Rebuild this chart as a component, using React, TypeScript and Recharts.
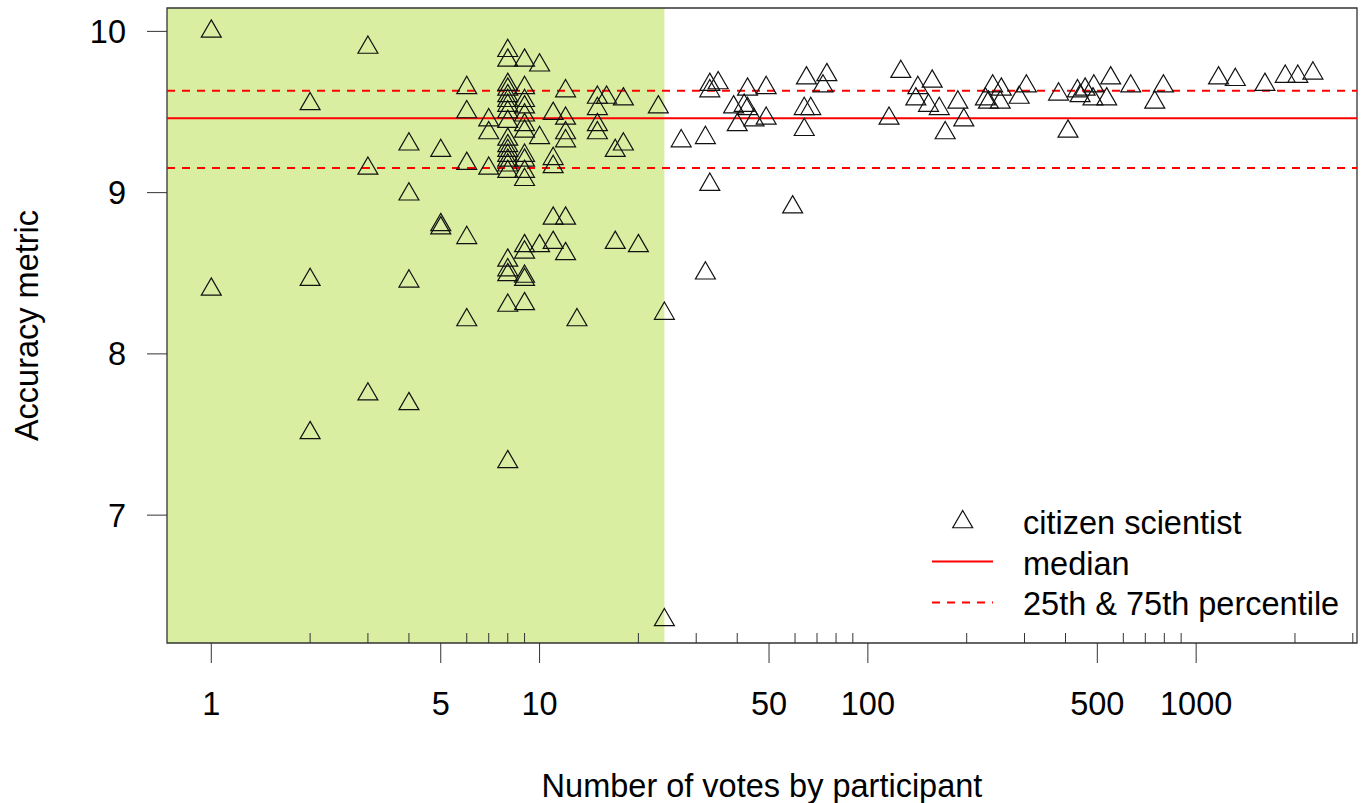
import {
  Legend,
  ReferenceArea,
  ReferenceLine,
  Scatter,
  ScatterChart,
  XAxis,
  YAxis,
} from 'recharts';

const FONT = '"Liberation Sans", Arial, sans-serif';

// participants with few votes (green zone)
const lowVotes = [
  1, 1,
  2, 2, 2,
  3, 3, 3,
  4, 4, 4, 4,
  5, 5, 5,
  6, 6, 6, 6, 6,
  7, 7, 7,
  8, 8, 8, 8, 8, 8, 8, 8, 8, 8, 8, 8, 8, 8, 8, 8, 8, 8, 8, 8, 8,
  9, 9, 9, 9, 9, 9, 9, 9, 9, 9, 9, 9, 9, 9, 9, 9,
  10, 10, 10,
  11, 11, 11, 11, 11,
  12, 12, 12, 12, 12, 12,
  13,
  15, 15, 15, 15,
  16,
  17, 17,
  18, 18,
  20,
  23,
  24, 24,
];
const lowAccuracy = [
  10.0, 8.4,
  9.55, 8.46, 7.51,
  9.9, 9.15, 7.75,
  9.3, 8.99, 8.45, 7.69,
  9.26, 8.8, 8.78,
  9.65, 9.5, 9.18, 8.72, 8.21,
  9.45, 9.37, 9.15,
  9.88, 9.82, 9.67, 9.64, 9.6, 9.57, 9.54, 9.5, 9.44, 9.33, 9.29, 9.26, 9.23, 9.2, 9.17, 9.13, 8.58, 8.52, 8.49, 8.3, 7.33,
  9.82, 9.65, 9.57, 9.53, 9.48, 9.42, 9.38, 9.23, 9.2, 9.13, 9.08, 8.67, 8.63, 8.48, 8.46, 8.31,
  9.79, 9.34, 8.67,
  9.49, 9.21, 9.16, 8.84, 8.69,
  9.63, 9.46, 9.37, 9.32, 8.84, 8.62,
  8.21,
  9.59, 9.52, 9.42, 9.37,
  9.59,
  9.26, 8.69,
  9.58, 9.3,
  8.67,
  9.53,
  8.25, 6.35,
];

// participants with many votes
const highVotes = [
  27, 32, 32, 33, 35, 33, 33, 39, 40, 42, 43, 43, 45, 49, 49, 59, 64, 64, 65, 67, 73, 75,
  116, 126, 142, 140, 157, 153, 165, 172, 188, 196, 240, 228, 233, 255, 253, 289, 304,
  381, 407, 435, 459, 443, 488, 485, 534, 549, 632, 748, 795,
  1170, 1316, 1620, 1868, 2040, 2268,
];
const highAccuracy = [
  9.32, 9.34, 8.5, 9.67, 9.68, 9.63, 9.05, 9.53, 9.42, 9.54, 9.64, 9.52, 9.45, 9.65, 9.46, 8.91, 9.39, 9.52, 9.71, 9.52, 9.66, 9.73,
  9.46, 9.75, 9.65, 9.58, 9.69, 9.54, 9.52, 9.37, 9.56, 9.45, 9.66, 9.58, 9.56, 9.64, 9.56, 9.59, 9.66,
  9.61, 9.38, 9.63, 9.64, 9.6, 9.66, 9.58, 9.58, 9.71, 9.66, 9.56, 9.66,
  9.71, 9.7, 9.67, 9.72, 9.72, 9.74,
];

const majorTicks = [1, 5, 10, 50, 100, 500, 1000];
const minorTicks = [2, 3, 4, 6, 7, 8, 9, 20, 30, 40, 60, 70, 80, 90, 200, 300, 400, 600, 700, 800, 900, 2000, 3000];
const yTicks = [7, 8, 9, 10];

const xDomain = [0.733, 3090];
const yDomain = [6.207, 10.145];
const shadeLimit = 24;
const medianValue = 9.462;
const quartileValues = [9.152, 9.632];

const legendLabels = ['citizen scientist', 'median', '25th & 75th percentile'];

const points = [
  ...lowVotes.map((v, i) => ({ votes: v, accuracy: lowAccuracy[i] })),
  ...highVotes.map((v, i) => ({ votes: v, accuracy: highAccuracy[i] })),
];

const allTicks = [...majorTicks, ...minorTicks].sort((a, b) => a - b);

function triPoints(cx: number, cy: number) {
  const b = 7.4;
  return `${cx},${cy - 1.555 * b} ${cx + 1.347 * b},${cy + 0.778 * b} ${cx - 1.347 * b},${cy + 0.778 * b}`;
}

function Triangle(props: any) {
  const { cx, cy } = props;
  if (cx == null || cy == null) return null;
  return <polygon points={triPoints(cx, cy)} fill="none" stroke="#111" strokeWidth={1.2} />;
}

function XTick(props: any) {
  const { x, y, payload } = props;
  if (!majorTicks.includes(payload.value)) {
    return <line x1={x} x2={x} y1={y} y2={y - 10} stroke="#333" strokeWidth={1} />;
  }
  return (
    <g>
      <line x1={x} x2={x} y1={y} y2={y + 20} stroke="#333" strokeWidth={1} />
      <text x={x} y={y + 72} textAnchor="middle" fontSize={32.5} fontFamily={FONT} fill="#000">
        {payload.value}
      </text>
    </g>
  );
}

function YTitle(props: any) {
  const vb = props.viewBox || { x: 0, y: 8, height: 635 };
  const cx = vb.x + 27;
  const cy = vb.y + vb.height / 2;
  return (
    <text
      x={cx}
      y={cy}
      transform={`rotate(-90 ${cx} ${cy})`}
      textAnchor="middle"
      dominantBaseline="central"
      fontSize={32.5}
      fontFamily={FONT}
      fill="#000"
    >
      Accuracy metric
    </text>
  );
}

function LegendBox() {
  const rowY = [27, 67.5, 108];
  return (
    <svg width={440} height={130} style={{ display: 'block' }}>
      <polygon points={triPoints(37.7, rowY[0])} fill="none" stroke="#111" strokeWidth={1.2} />
      <line x1={7} x2={68} y1={rowY[1] - 1} y2={rowY[1] - 1} stroke="#ff0000" strokeWidth={2} />
      <line x1={7} x2={68} y1={rowY[2] - 0.5} y2={rowY[2] - 0.5} stroke="#ff0000" strokeWidth={2} strokeDasharray="8 7" />
      {legendLabels.map((label, i) => (
        <text key={label} x={98} y={rowY[i] + 12} fontSize={32.5} fontFamily={FONT} fill="#000">
          {label}
        </text>
      ))}
    </svg>
  );
}

export default function App() {
  return (
    <div style={{ position: 'absolute', left: 0, top: 0, background: '#fff' }}>
      <ScatterChart width={1363} height={803} margin={{ top: 8, right: 6, bottom: 0, left: 0 }}>
        <XAxis
          type="number"
          dataKey="votes"
          scale="log"
          domain={xDomain}
          allowDataOverflow
          ticks={allTicks}
          interval={0}
          tick={<XTick />}
          tickSize={0}
          tickMargin={0}
          tickLine={false}
          axisLine={false}
          height={160}
          label={{
            value: 'Number of votes by participant',
            position: 'insideBottom',
            offset: 6,
            fontSize: 32.5,
            fontFamily: FONT,
            fill: '#000',
          }}
        />
        <YAxis
          type="number"
          dataKey="accuracy"
          domain={yDomain}
          allowDataOverflow
          ticks={yTicks}
          interval={0}
          width={167}
          tickSize={20}
          tickMargin={21}
          tickLine={{ stroke: '#333' }}
          axisLine={false}
          tick={{ fontSize: 32.5, fontFamily: FONT, fill: '#000' }}
          label={{ content: <YTitle /> }}
        />
        <ReferenceArea
          x1={xDomain[0]}
          x2={shadeLimit}
          y1={yDomain[0]}
          y2={yDomain[1]}
          fill="#d9eea1"
          fillOpacity={1}
          stroke="none"
        />
        <ReferenceLine y={medianValue} stroke="#ff0000" strokeWidth={2} />
        {quartileValues.map((q) => (
          <ReferenceLine key={q} y={q} stroke="#ff0000" strokeWidth={2} strokeDasharray="8 7" />
        ))}
        <Scatter data={points} shape={<Triangle />} isAnimationActive={false} />
        <ReferenceArea
          x1={xDomain[0]}
          x2={xDomain[1]}
          y1={yDomain[0]}
          y2={yDomain[1]}
          fill="none"
          stroke="#333"
          strokeWidth={1.3}
        />
        <Legend
          layout="vertical"
          align="center"
          verticalAlign="middle"
          wrapperStyle={{ left: 925, top: 495, width: 440, height: 130 }}
          content={() => <LegendBox />}
        />
      </ScatterChart>
    </div>
  );
}
